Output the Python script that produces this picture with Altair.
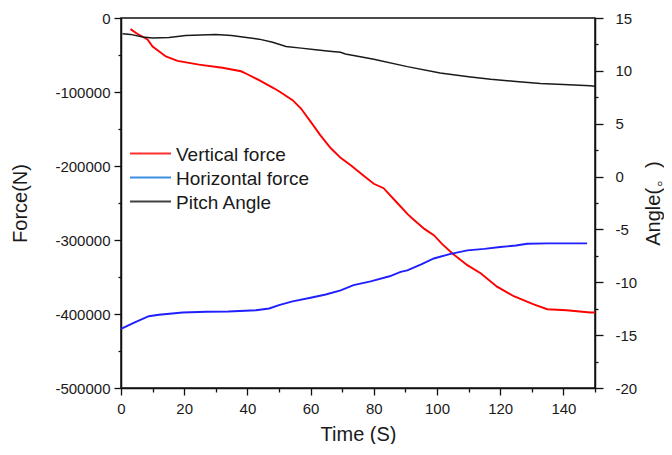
import altair as alt
import pandas as pd

# ---------------- data ----------------
vert_t = [3, 5, 8.4, 10, 14.2, 17.9, 24.7, 32.1, 38, 40, 43.7, 48.4, 50, 54.3, 56.9, 60, 63,
          66.4, 69.5, 72.7, 77, 80, 83.1, 87, 90.7, 92.2, 96, 99, 101.5, 104.8, 109.6, 113.8,
          119, 124.3, 130.6, 134.9, 141, 148.5, 150]
vert_f = [-15, -21, -29, -38.5, -52, -58, -63, -67.3, -72, -76, -84, -95, -99, -111, -122, -140,
          -158, -176, -189, -199, -214, -224, -230, -248, -265, -271, -285, -293.5, -305, -318,
          -334, -345, -363, -376, -387, -393.5, -395, -398, -398]

horiz_t = [0, 4, 8.8, 12, 19.5, 27, 34, 42.7, 46.9, 50, 54.3, 60, 64.8, 69.5, 73.6, 79, 85,
           88.5, 90.6, 95, 99, 104, 109.6, 115, 120, 125, 128.5, 135, 140, 147.5]
horiz_f = [-420, -412, -403, -401, -398, -397, -396.6, -395, -392.5, -388, -383, -378, -373.6,
           -368, -361, -356, -349, -343, -341, -333, -325, -319, -314, -312, -309.5, -307.5,
           -305, -304.5, -304.5, -304.5]

pitch_t = [0.5, 3, 6.9, 10, 15.2, 20.5, 30, 35, 38.5, 43.7, 48, 52.2, 57, 61.6, 66, 69.5, 71,
           73.6, 80, 90.6, 101, 110, 117, 125, 132.7, 140, 148.5, 150]
pitch_a = [13.5, 13.45, 13.2, 13.1, 13.15, 13.35, 13.45, 13.35, 13.2, 13.0, 12.7, 12.3, 12.15,
           12.0, 11.85, 11.75, 11.6, 11.46, 11.1, 10.4, 9.8, 9.45, 9.2, 9.0, 8.8, 8.7, 8.6, 8.55]

series_names = ["Vertical force", "Horizontal force", "Pitch Angle"]
line_colors = ["#ff0000", "#1f1fff", "#1a1a1a"]
legend_colors = ["#ff3030", "#3d8fe0", "#404040"]

x_title = "Time (S)"
left_title = "Force(N)"
right_title = "Angle(。)"

x_ticks = list(range(0, 151, 10))
force_ticks = list(range(-500000, 1, 50000))
angle_ticks = [-20 + 2.5 * k for k in range(15)]

# ---------------- tables ----------------
vdf = pd.DataFrame({"Time": vert_t, "Force": [v * 1000 for v in vert_f]})
hdf = pd.DataFrame({"Time": horiz_t, "Force": [v * 1000 for v in horiz_f]})
pdf = pd.DataFrame({"Time": pitch_t, "Angle": pitch_a})

FONT = "Liberation Sans"
TXT = "#1a1a1a"

x_enc = alt.X(
    "Time:Q",
    scale=alt.Scale(domain=[0, 150], nice=False, zero=False),
    axis=alt.Axis(
        values=x_ticks,
        labelExpr="datum.value % 20 == 0 ? toString(datum.value) : ''",
        tickSize={"condition": {"test": "datum.value % 20 == 0", "value": 7}, "value": 4},
        title=x_title, titleFontSize=20, titlePadding=8,
        labelFontSize=15, labelPadding=6, labelFlush=False,
    ),
)

force_y = alt.Y(
    "Force:Q",
    scale=alt.Scale(domain=[-500000, 0], nice=False, zero=False),
    axis=alt.Axis(
        orient="left", values=force_ticks,
        labelExpr="datum.value % 100000 == 0 ? toString(datum.value) : ''",
        tickSize={"condition": {"test": "datum.value % 100000 == 0", "value": 7}, "value": 3},
        title=left_title, titleFontSize=20, titlePadding=24,
        labelFontSize=15, labelPadding=4, labelFlush=False,
    ),
)

angle_y = alt.Y(
    "Angle:Q",
    scale=alt.Scale(domain=[-20, 15], nice=False, zero=False),
    axis=alt.Axis(
        orient="right", values=angle_ticks,
        labelExpr="datum.value % 5 == 0 ? toString(datum.value) : ''",
        tickSize={"condition": {"test": "datum.value % 5 == 0", "value": 8}, "value": 3},
        title=right_title, titleFontSize=20, titlePadding=7, titleAngle=270,
        titleBaseline="top",
        labelFontSize=15, labelPadding=12, labelFlush=False,
    ),
)

vert_line = alt.Chart(vdf).mark_line(color=line_colors[0], strokeWidth=1.9).encode(x=x_enc, y=force_y)
horiz_line = alt.Chart(hdf).mark_line(color=line_colors[1], strokeWidth=1.9).encode(x=x_enc, y=force_y)
pitch_line = alt.Chart(pdf).mark_line(color=line_colors[2], strokeWidth=1.5).encode(x=x_enc, y=angle_y)

# manual legend
leg_layers = []
for i, (name, col) in enumerate(zip(series_names, legend_colors)):
    d = pd.DataFrame({"label": [name]})
    yy = 135.5 + i * 24
    leg_layers.append(
        alt.Chart(d).mark_rule(color=col, strokeWidth=2.2).encode(
            x=alt.value(9), x2=alt.value(50), y=alt.value(yy))
    )
    leg_layers.append(
        alt.Chart(d).mark_text(align="left", baseline="middle", font=FONT, fontSize=19,
                               color=TXT, dy=1).encode(
            x=alt.value(55), y=alt.value(yy), text="label:N")
    )

force_layer = alt.layer(vert_line, horiz_line, *leg_layers)
angle_layer = alt.layer(pitch_line)

chart = (
    alt.layer(force_layer, angle_layer)
    .resolve_scale(y="independent")
    .properties(width=474, height=370, padding={"left": 2, "top": 3, "right": 0, "bottom": 0})
    .configure(font=FONT, background="white")
    .configure_view(stroke="#111", strokeWidth=1.5)
    .configure_axis(
        domainColor="#111", domainWidth=1.5, tickColor="#111", tickWidth=1.3,
        labelColor=TXT, titleColor=TXT, labelFont=FONT, titleFont=FONT,
        titleFontWeight="normal", grid=False,
    )
)

chart.save("out.html", embed_options={"renderer": "svg", "actions": False})
